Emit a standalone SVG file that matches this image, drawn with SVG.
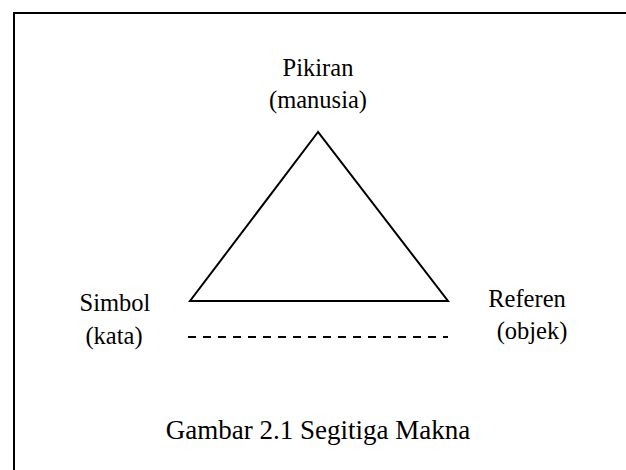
<svg xmlns="http://www.w3.org/2000/svg" width="626" height="470" viewBox="0 0 626 470">
<style>
.lbl{fill:#000;text-anchor:middle;font-family:"Liberation Serif","Times New Roman",serif}
.ln{fill:none;stroke:#000;stroke-width:2}
</style>
<rect x="0" y="0" width="626" height="470" fill="#fff"/>
<path class="ln" d="M14,480 V13 H640" stroke-width="2.5"/>
<g id="pikiran" font-size="24.5">
<text class="lbl" x="318" y="76">Pikiran</text>
<text class="lbl" x="318" y="108">(manusia)</text>
</g>
<g id="simbol" font-size="24.5">
<text class="lbl" x="115" y="311">Simbol</text>
<text class="lbl" x="114" y="344">(kata)</text>
</g>
<g id="referen" font-size="24.5">
<text class="lbl" x="527" y="307">Referen</text>
<text class="lbl" x="532" y="339">(objek)</text>
</g>
<g id="connectors">
<polygon class="ln" points="318,132 190,301 448,301"/>
<line class="ln" x1="188" y1="337" x2="448" y2="337" stroke-dasharray="8,7"/>
</g>
<g id="caption" font-size="27">
<text class="lbl" x="318" y="439">Gambar 2.1 Segitiga Makna</text>
</g>
</svg>
